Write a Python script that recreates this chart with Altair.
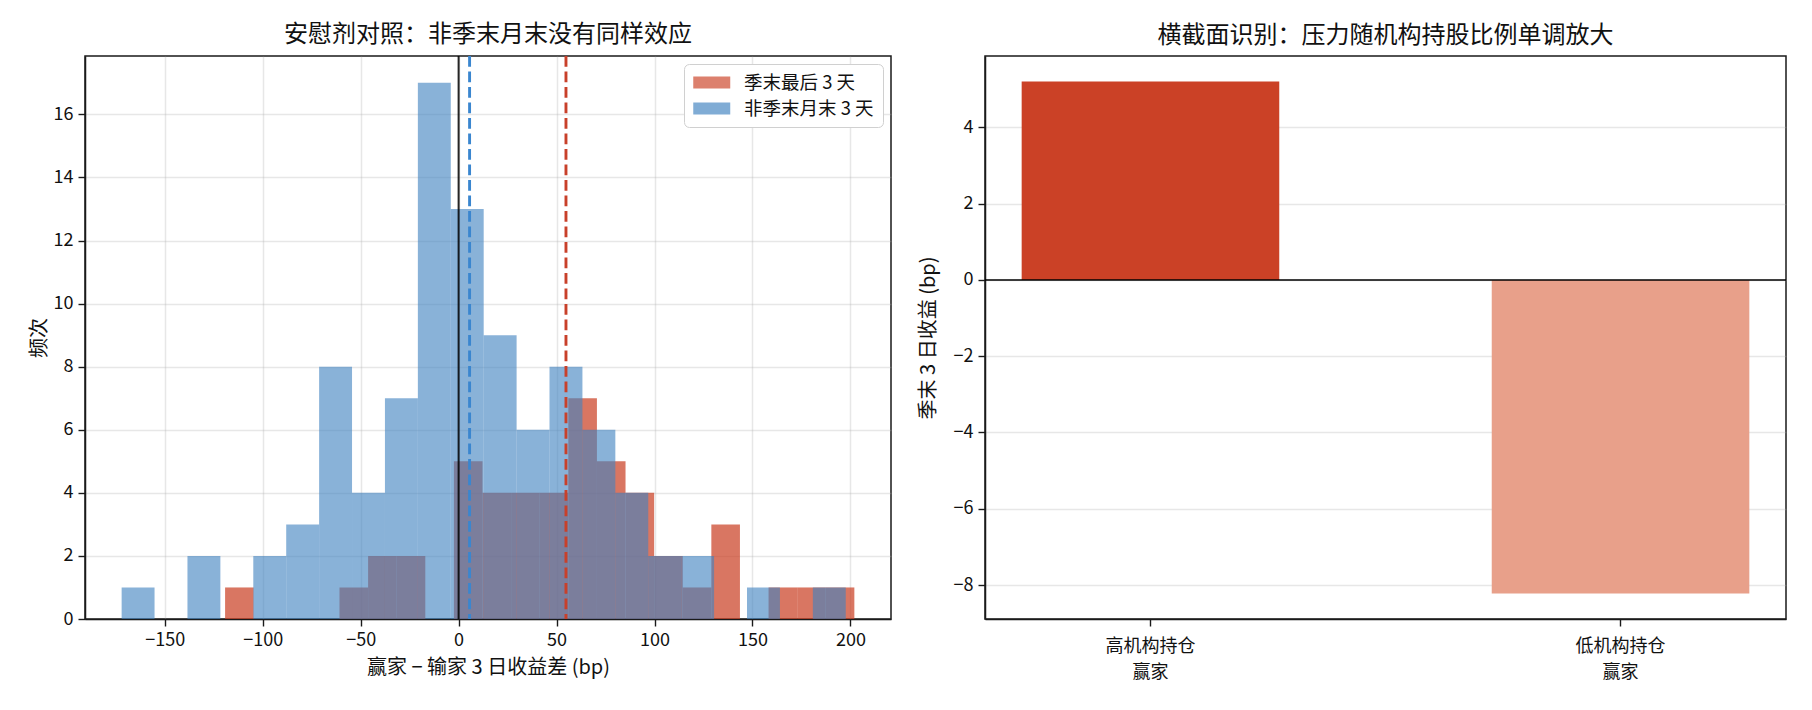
import altair as alt
import pandas as pd

FONT = "Noto Sans CJK SC"

# ---------------- data ----------------
red_label = "季末最后 3 天"
blue_label = "非季末月末 3 天"

red_bin_start = -119.2
red_bin_width = 14.6
red_counts = [1, 0, 0, 0, 1, 2, 2, 0, 5, 4, 4, 4, 7, 5, 4, 2, 1, 3, 0, 1, 1, 1]

blue_bin_start = -172.0
blue_bin_width = 16.8
blue_counts = [1, 0, 2, 0, 2, 3, 8, 4, 7, 17, 13, 9, 6, 8, 6, 4, 2, 2, 0, 1, 0, 1]

red_mean = 54.8
blue_mean = 5.6

groups = ["高机构持仓\n赢家", "低机构持仓\n赢家"]
group_values = [5.2, -8.22]

x_ticks = [-150, -100, -50, 0, 50, 100, 150, 200]
y_ticks_left = [0, 2, 4, 6, 8, 10, 12, 14, 16]
y_ticks_right = [-8, -6, -4, -2, 0, 2, 4]

# ---------------- colours ----------------
RED = "#CB4126"
BLUE_HIST = "#4183C0"
BLUE_LINE = "#3A86CF"
RED_LINE = "#C8402A"
LIGHT_RED = "#E8A08A"


def hist_frame(label, start, width, counts):
    rows = []
    for i, c in enumerate(counts):
        rows.append({"series": label, "lo": start + i * width,
                     "hi": start + (i + 1) * width, "count": c})
    return pd.DataFrame(rows)


red_df = hist_frame(red_label, red_bin_start, red_bin_width, red_counts)
blue_df = hist_frame(blue_label, blue_bin_start, blue_bin_width, blue_counts)

xs = alt.Scale(domain=[-190.7, 220.7], nice=False, zero=False)
ys = alt.Scale(domain=[0, 17.85], nice=False)
color_scale = alt.Scale(domain=[red_label, blue_label], range=[RED, BLUE_HIST])

legend = alt.Legend(
    title=None, orient="top-right", offset=8,
    fillColor="white", strokeColor="#d0d0d0", cornerRadius=5, padding=9,
    labelFontSize=18.5, labelFont=FONT, labelColor="#111",
    symbolType="M-1,-0.64L3,-0.64L3,0.64L-1,0.64Z",
    symbolSize=342, symbolStrokeWidth=0, symbolOpacity=0.67,
    labelOffset=32, rowPadding=7,
)

x_axis = alt.Axis(values=x_ticks, title="赢家 − 输家 3 日收益差 (bp)", grid=True,
                  titlePadding=8)
y_axis = alt.Axis(values=y_ticks_left, title="频次", grid=True, titlePadding=4)


def hist_layer(df, opacity):
    return alt.Chart(df).mark_bar(opacity=opacity).encode(
        x=alt.X("lo:Q", scale=xs, axis=x_axis),
        x2="hi:Q",
        y=alt.Y("count:Q", scale=ys, axis=y_axis),
        y2=alt.datum(0),
        color=alt.Color("series:N", scale=color_scale, legend=legend),
    )


red_bars = hist_layer(red_df, 0.72)
blue_bars = hist_layer(blue_df, 0.62)

zero_line = alt.Chart(pd.DataFrame({"v": [0]})).mark_rule(
    color="black", strokeWidth=2, opacity=0.85).encode(x=alt.X("v:Q", scale=xs))
blue_line = alt.Chart(pd.DataFrame({"v": [blue_mean]})).mark_rule(
    color=BLUE_LINE, strokeWidth=2.9, strokeDash=[10.8, 4.7]).encode(x=alt.X("v:Q", scale=xs))
red_line = alt.Chart(pd.DataFrame({"v": [red_mean]})).mark_rule(
    color=RED_LINE, strokeWidth=2.9, strokeDash=[10.8, 4.7]).encode(x=alt.X("v:Q", scale=xs))

left = alt.layer(red_bars, blue_bars, zero_line, blue_line, red_line).properties(
    width=806, height=563,
    title=alt.TitleParams("安慰剂对照：非季末月末没有同样效应", fontSize=24,
                          font=FONT, fontWeight="normal", offset=8, color="#111"),
)

# ---------------- right panel ----------------
grp = pd.DataFrame({"group": groups, "value": group_values})
ys2 = alt.Scale(domain=[-8.89, 5.87], nice=False)

right_bars = alt.Chart(grp).mark_bar().encode(
    x=alt.X("group:N", sort=None,
            scale=alt.Scale(paddingInner=0.452, paddingOuter=0.078),
            axis=alt.Axis(title=None, labelAngle=0, grid=False,
                          labelExpr="split(datum.label, '\\n')",
                          labelLineHeight=26, labelPadding=11)),
    y=alt.Y("value:Q", scale=ys2,
            axis=alt.Axis(values=y_ticks_right, title="季末 3 日收益 (bp)", grid=True,
                          titlePadding=15)),
    color=alt.Color("group:N", scale=alt.Scale(domain=groups, range=[RED, LIGHT_RED]),
                    legend=None),
)
right_zero = alt.Chart(pd.DataFrame({"v": [0]})).mark_rule(
    color="black", strokeWidth=1.5).encode(y=alt.Y("v:Q", scale=ys2))

right = alt.layer(right_bars, right_zero).properties(
    width=801, height=563,
    title=alt.TitleParams("横截面识别：压力随机构持股比例单调放大", fontSize=24,
                          font=FONT, fontWeight="normal", offset=8, color="#111"),
)

chart = alt.hconcat(left, right, spacing=25).resolve_scale(
    color="independent"
).resolve_legend(color="independent").properties(
    padding={"left": 20, "top": 13, "right": 5, "bottom": 5}
).configure_view(
    stroke="#1a1a1a", strokeWidth=1.5
).configure_axis(
    labelFont=FONT, titleFont=FONT, labelFontSize=18, titleFontSize=20,
    labelColor="#111", titleColor="#111", titleFontWeight="normal",
    tickColor="#1a1a1a", tickSize=7, tickWidth=1.4,
    domainColor="#1a1a1a", domainWidth=1.5,
    gridColor="#b0b0b0", gridOpacity=0.3, gridWidth=1.5,
    labelPadding=5, zindex=1,
).configure_legend(labelFont=FONT).configure_title(font=FONT)

chart.save("out.html", embed_options={"renderer": "svg", "actions": False})
